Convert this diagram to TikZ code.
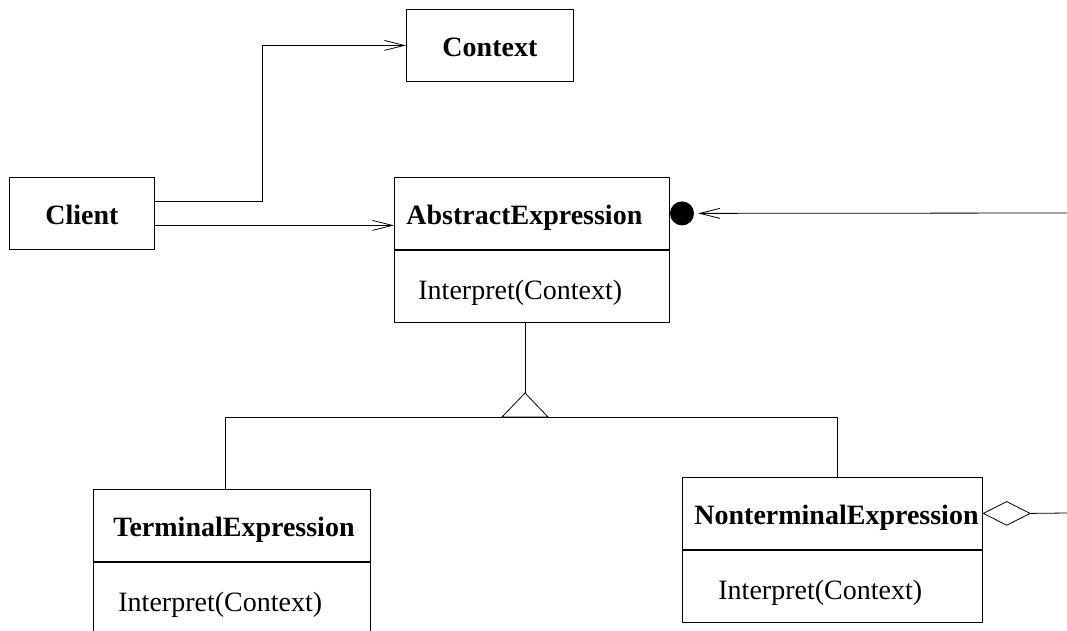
\documentclass[tikz,border=0pt]{standalone}
\usepackage{fontspec}
\setmainfont{Liberation Serif}
\usetikzlibrary{shapes.geometric}
\usetikzlibrary{positioning}
\usetikzlibrary{arrows.meta}

\begin{document}
\begin{tikzpicture}[x=1pt, y=-1pt]
        % ================= 样式定义 =================
        \tikzset{
            % 类框标题格:粗体
            cls_title/.style={draw=black, line width=0.8pt, rectangle, anchor=north west, minimum height=72pt, inner ysep=0pt, text height=23pt, text depth=0pt, align=left, font=\fontsize{28}{32}\selectfont\bfseries},
            % 类框操作格:常规字体
            cls_op/.style={draw=black, line width=0.8pt, rectangle, anchor=north west, minimum height=72pt, inner ysep=0pt, text height=26pt, text depth=0pt, align=left, font=\fontsize{28}{32}\selectfont},
            % 依赖箭头 (开口箭头)
            dep_arrow/.style={line width=0.8pt, -{Straight Barb[length=20pt, width=10pt]}},
            plain_line/.style={line width=0.8pt},
            % 聚合端点:实心圆与空心菱形
            agg_dot/.style={circle, fill=black, minimum size=24pt, inner sep=0pt},
            agg_diamond/.style={diamond, draw=black, line width=0.8pt, fill=white, minimum width=47pt, minimum height=24pt, inner sep=0pt}
        }

        \clip (0,0) rectangle (1067,630);

        % ================= 上部:Client 与 Context =================
        \node[cls_title, align=center, minimum width=145pt] (client) at (9,177) {Client};
        \node[cls_title, align=center, minimum width=167pt] (context) at (406,9) {Context};

        % ================= AbstractExpression =================
        \node[cls_title, text width=251pt, inner xsep=12pt] (absname) at (394,177) {AbstractExpression};
        \node[cls_op, text width=227pt, inner xsep=24pt] (absop) at (absname.south west) {Interpret(Context)};

        % ================= 下部两个子类 =================
        \node[cls_title, text width=237pt, inner xsep=20pt] (termname) at (93,489) {TerminalExpression};
        \node[cls_op, text width=227pt, inner xsep=25pt] (termop) at (termname.south west) {Interpret(Context)};

        \node[cls_title, text width=276pt, inner xsep=12pt] (ntname) at (682,477) {NonterminalExpression};
        \node[cls_op, text width=228pt, inner xsep=36pt] (ntop) at (ntname.south west) {Interpret(Context)};

        % Client 的两条依赖
        \draw[dep_arrow] ([yshift=12pt]client.east) -- ++(108,0) |- (context.west);
        \draw[dep_arrow] ([yshift=-12pt]client.east) -- ([yshift=-12pt]absname.west);

        % 继承:三角形 + 横向总线
        \coordinate (apex) at (525,393);
        \coordinate (busl) at (225,417);
        \coordinate (busr) at (837,417);
        \draw[plain_line] (absop.south -| apex) -- (apex);
        \draw[plain_line] (apex) -- ++(-23,24) -- ++(46,0) -- cycle;
        \draw[plain_line] (busl |- termname.north) -- (busl) -- (busr) -- (busr |- ntname.north);

        % 右侧聚合 (线伸出画面)
        \node[agg_dot, right=0pt of absname] (aggdot) {};
        \coordinate (rin) at (1067,213);
        \draw[dep_arrow, shorten >=4pt] (rin) -- (aggdot);

        \node[agg_diamond, right=0pt of ntname] (aggdia) {};
        \coordinate (rout) at (1067,513);
        \draw[plain_line] (aggdia.east) -- (rout);

    \end{tikzpicture}
\end{document}
